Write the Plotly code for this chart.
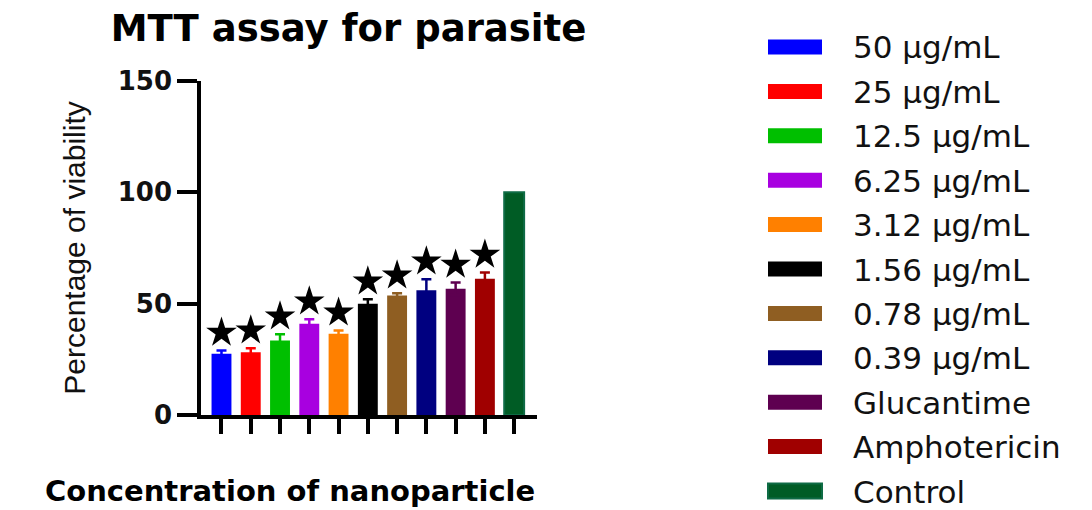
import plotly.graph_objects as go

categories = ["50 μg/mL", "25 μg/mL", "12.5 μg/mL", "6.25 μg/mL", "3.12 μg/mL",
              "1.56 μg/mL", "0.78 μg/mL", "0.39 μg/mL", "Glucantime",
              "Amphotericin", "Control"]
viability = [27.5, 28.2, 33.5, 41.0, 36.5, 50.0, 53.7, 56.0, 56.7, 61.2, 100.0]
sd = [1.5, 1.8, 2.8, 2.0, 1.5, 2.0, 1.0, 5.0, 2.8, 2.8, 0.0]
significant = [True, True, True, True, True, True, True, True, True, True, False]
colors = ["#0000FF", "#FF0000", "#00BF00", "#A800E0", "#FF8000", "#000000",
          "#8F5E22", "#000080", "#5E0050", "#A00000", "#005C25"]
outline = ["#0000FF", "#FF0000", "#00BF00", "#A800E0", "#FF8000", "#000000",
           "#8F5E22", "#000080", "#5E0050", "#A00000", "#0E6B45"]
y_ticks = [0, 50, 100, 150]
star_offset = 8

W, H = 1092, 510
L, R, T, B = 201, W - 537, 81, H - 415
pw, ph = W - L - R, H - T - B


def px_x(px):
    return (px - L) / pw


def px_y(py):
    return (H - B - py) / ph


fig = go.Figure()
for i, cat in enumerate(categories):
    fig.add_trace(go.Bar(
        x=[cat], y=[viability[i]], name=cat, width=0.68,
        marker=dict(color=colors[i], line=dict(color=outline[i], width=2 if i == 10 else 0)),
        error_y=dict(type="data", array=[sd[i]], visible=sd[i] > 0,
                     color=colors[i], thickness=2.5, width=5),
        showlegend=False,
    ))

star_x = [c for c, s in zip(categories, significant) if s]
star_y = [v + e + star_offset for v, e, s in zip(viability, sd, significant) if s]
fig.add_trace(go.Scatter(
    x=star_x, y=star_y, mode="markers",
    marker=dict(symbol="star", size=23, color="black"),
    showlegend=False, hoverinfo="skip",
))

# custom legend (swatches + labels)
for i, cat in enumerate(categories):
    cy = 47.0 + i * 44.4
    fig.add_shape(type="rect", xref="paper", yref="paper",
                  x0=px_x(768), x1=px_x(822), y0=px_y(cy + 7.5), y1=px_y(cy - 7.5),
                  fillcolor=colors[i], line=dict(color=outline[i], width=2 if i == 10 else 0))
    fig.add_annotation(text=cat, xref="paper", yref="paper", x=px_x(851), y=px_y(cy + 0.5),
                       xanchor="left", yanchor="middle", showarrow=False,
                       font=dict(family="DejaVu Sans", size=31, color="#111111"))

fig.add_annotation(text="Concentration of nanoparticle", xref="paper", yref="paper",
                   x=px_x(290), y=px_y(491), xanchor="center", yanchor="middle",
                   showarrow=False,
                   font=dict(family="DejaVu Sans", size=29, color="#000000", weight="bold"))

fig.update_layout(
    width=W, height=H,
    margin=dict(l=L, r=R, t=T, b=B, autoexpand=False),
    paper_bgcolor="white", plot_bgcolor="white",
    barmode="overlay",
    title=dict(text="MTT assay for parasite", x=348.5 / W, xanchor="center",
               xref="container", y=1 - 28 / H, yanchor="middle", yref="container",
               font=dict(family="DejaVu Sans", size=37, color="#000000", weight="bold")),
    xaxis=dict(range=[-0.7, 10.78], showline=True, linewidth=3.5, linecolor="black",
               ticks="outside", ticklen=15, tickwidth=4, tickcolor="black",
               showticklabels=False, showgrid=False, zeroline=False, fixedrange=True),
    yaxis=dict(range=[0, 150], tickvals=y_ticks, showline=True, linewidth=3.5,
               linecolor="black", ticks="outside", ticklen=20, tickwidth=3.5,
               tickcolor="black", showgrid=False, zeroline=False,
               tickfont=dict(family="DejaVu Sans", size=26, color="#111111", weight="bold"),
               title=dict(text="Percentage of viability", standoff=24,
                          font=dict(family="Liberation Sans", size=30, color="#111111"))),
)

fig.write_html("out.html", config={"displayModeBar": False},
               post_script="document.body.style.margin='0px';")
